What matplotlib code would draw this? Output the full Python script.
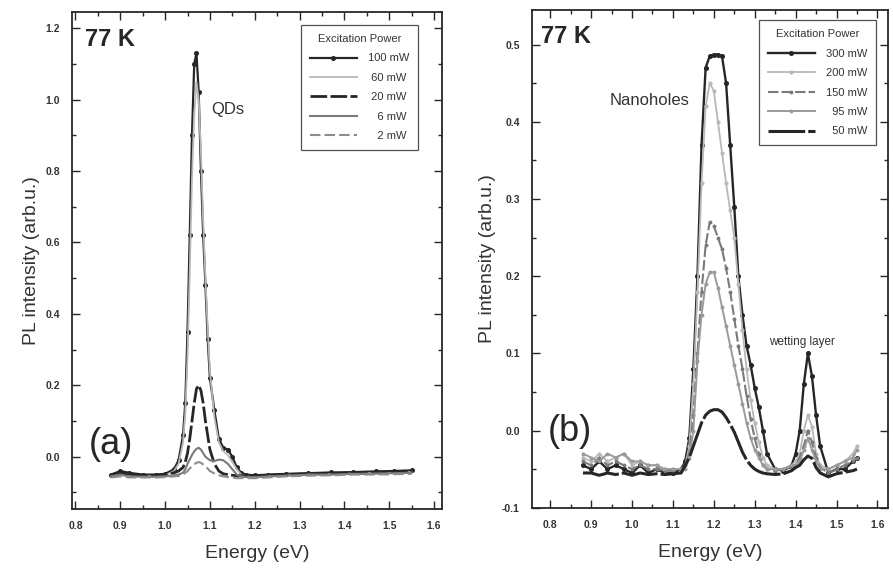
import matplotlib
matplotlib.use("Agg")
import matplotlib.pyplot as plt
from matplotlib.ticker import MultipleLocator, FormatStrFormatter

plt.rcParams["font.family"] = ["Liberation Sans", "DejaVu Sans"]

# ---- panel (a): QDs, 77 K ----
ENERGY_A = [0.88, 0.90, 0.92, 0.95, 0.98, 1.00, 1.02, 1.03, 1.04, 1.045, 1.05, 1.055,
            1.06, 1.065, 1.07, 1.075, 1.08, 1.085, 1.09, 1.095, 1.10, 1.11, 1.12, 1.13,
            1.14, 1.15, 1.16, 1.17, 1.18, 1.20, 1.23, 1.27, 1.32, 1.37, 1.42, 1.47, 1.51, 1.55]
PL_100 = [-0.05, -0.04, -0.045, -0.05, -0.05, -0.048, -0.035, -0.01, 0.06, 0.15, 0.35, 0.62,
          0.90, 1.10, 1.13, 1.02, 0.80, 0.62, 0.48, 0.33, 0.22, 0.13, 0.05, 0.025,
          0.02, 0.0, -0.03, -0.045, -0.05, -0.052, -0.05, -0.048, -0.046, -0.044, -0.043, -0.041, -0.04, -0.038]
PL_60 = [-0.055, -0.05, -0.055, -0.055, -0.055, -0.052, -0.04, -0.02, 0.04, 0.12, 0.28, 0.52,
         0.78, 0.96, 1.05, 1.0, 0.85, 0.66, 0.50, 0.36, 0.24, 0.11, 0.04, 0.015,
         0.005, -0.015, -0.035, -0.05, -0.055, -0.058, -0.055, -0.052, -0.05, -0.049, -0.047, -0.046, -0.045, -0.044]
PL_20 = [-0.05, -0.045, -0.05, -0.052, -0.052, -0.05, -0.045, -0.04, -0.03, -0.015, 0.01, 0.05,
         0.10, 0.15, 0.19, 0.20, 0.185, 0.15, 0.10, 0.06, 0.02, -0.02, -0.04, -0.048,
         -0.05, -0.052, -0.053, -0.053, -0.054, -0.054, -0.052, -0.05, -0.048, -0.047, -0.046, -0.045, -0.044, -0.043]
PL_6 = [-0.055, -0.05, -0.055, -0.056, -0.056, -0.055, -0.052, -0.05, -0.045, -0.035, -0.02, -0.008,
        0.005, 0.015, 0.022, 0.025, 0.02, 0.01, 0.0, -0.005, -0.01, -0.012, -0.008, -0.01,
        -0.02, -0.035, -0.05, -0.055, -0.057, -0.057, -0.055, -0.053, -0.05, -0.05, -0.048, -0.047, -0.046, -0.045]
PL_2 = [-0.058, -0.055, -0.058, -0.058, -0.058, -0.057, -0.055, -0.054, -0.05, -0.045, -0.04, -0.033,
        -0.027, -0.021, -0.017, -0.015, -0.017, -0.022, -0.027, -0.033, -0.04, -0.047, -0.052, -0.055,
        -0.057, -0.058, -0.06, -0.06, -0.06, -0.06, -0.058, -0.055, -0.053, -0.052, -0.05, -0.05, -0.049, -0.048]

# ---- panel (b): nanoholes, 77 K ----
ENERGY_B = [0.88, 0.90, 0.92, 0.94, 0.96, 0.98, 1.00, 1.02, 1.04, 1.06, 1.08, 1.10, 1.12,
            1.13, 1.14, 1.15, 1.16, 1.17, 1.18, 1.19, 1.20, 1.21, 1.22, 1.23, 1.24, 1.25,
            1.26, 1.27, 1.28, 1.29, 1.30, 1.31, 1.32, 1.33,
            1.35, 1.37, 1.39,
            1.40, 1.41, 1.42, 1.43, 1.44, 1.45, 1.46,
            1.48, 1.50, 1.52, 1.54, 1.55]
PL_300 = [-0.045, -0.05, -0.04, -0.05, -0.045, -0.05, -0.055, -0.045, -0.055, -0.05, -0.055, -0.055, -0.05,
          -0.04, -0.01, 0.08, 0.20, 0.37, 0.47, 0.485, 0.487, 0.487, 0.485, 0.45, 0.37, 0.29,
          0.20, 0.15, 0.11, 0.085, 0.055, 0.03, 0.0, -0.03,
          -0.05, -0.052, -0.045,
          -0.03, 0.0, 0.06, 0.10, 0.07, 0.02, -0.02,
          -0.055, -0.05, -0.05, -0.04, -0.035]
PL_200 = [-0.035, -0.04, -0.03, -0.04, -0.035, -0.03, -0.045, -0.04, -0.045, -0.045, -0.05, -0.05, -0.05,
          -0.045, -0.02, 0.06, 0.18, 0.32, 0.42, 0.45, 0.44, 0.40, 0.36, 0.32, 0.285, 0.25,
          0.19, 0.13, 0.08, 0.04, 0.01, -0.015, -0.035, -0.045,
          -0.05, -0.05, -0.045,
          -0.04, -0.03, 0.0, 0.02, 0.005, -0.03, -0.045,
          -0.05, -0.045, -0.04, -0.03, -0.02]
PL_150 = [-0.04, -0.045, -0.035, -0.045, -0.04, -0.045, -0.05, -0.045, -0.05, -0.05, -0.052, -0.052, -0.05,
          -0.045, -0.03, 0.02, 0.10, 0.18, 0.24, 0.27, 0.265, 0.25, 0.235, 0.21, 0.18, 0.145,
          0.11, 0.08, 0.045, 0.015, -0.01, -0.03, -0.045, -0.05,
          -0.052, -0.05, -0.048,
          -0.045, -0.035, -0.02, 0.0, -0.015, -0.035, -0.048,
          -0.055, -0.05, -0.045, -0.04, -0.035]
PL_95 = [-0.03, -0.035, -0.04, -0.03, -0.035, -0.03, -0.04, -0.04, -0.045, -0.045, -0.05, -0.05, -0.05,
         -0.05, -0.035, 0.0, 0.09, 0.15, 0.19, 0.205, 0.205, 0.185, 0.16, 0.135, 0.11, 0.085,
         0.06, 0.035, 0.01, -0.01, -0.025, -0.035, -0.045, -0.05,
         -0.05, -0.05, -0.045,
         -0.045, -0.04, -0.025, -0.01, -0.025, -0.04, -0.05,
         -0.05, -0.045, -0.04, -0.035, -0.025]
PL_50 = [-0.055, -0.055, -0.058, -0.055, -0.057, -0.055, -0.058, -0.055, -0.057, -0.056, -0.057, -0.056, -0.055,
         -0.045, -0.035, -0.02, -0.005, 0.01, 0.02, 0.025, 0.027, 0.027, 0.024, 0.017, 0.008, -0.002,
         -0.015, -0.028, -0.038, -0.045, -0.05, -0.053, -0.055, -0.056,
         -0.057, -0.056, -0.052,
         -0.048, -0.045, -0.038, -0.033, -0.036, -0.048, -0.055,
         -0.06, -0.056, -0.054, -0.052, -0.05]

DARK = "#262626"
MID = "#7a7a7a"
LIGHT = "#b8b8b8"
TXT = "#333333"


def style_axes(ax, xmaj, ymaj, ymin):
    ax.xaxis.set_major_locator(MultipleLocator(xmaj))
    ax.xaxis.set_minor_locator(MultipleLocator(xmaj / 2))
    ax.yaxis.set_major_locator(MultipleLocator(ymaj))
    ax.yaxis.set_minor_locator(MultipleLocator(ymin))
    ax.xaxis.set_major_formatter(FormatStrFormatter("%.1f"))
    ax.yaxis.set_major_formatter(FormatStrFormatter("%.1f"))
    ax.tick_params(which="both", direction="in", top=True, right=True,
                   colors=DARK, labelcolor=TXT, width=1.0)
    ax.tick_params(which="major", length=6, labelsize=7.5, pad=9)
    ax.tick_params(which="minor", length=3)
    for lab in ax.get_xticklabels() + ax.get_yticklabels():
        lab.set_fontweight("bold")
    for sp in ax.spines.values():
        sp.set_linewidth(1.3)
        sp.set_color(DARK)
    ax.set_xlabel("Energy (eV)", fontsize=14, color=TXT, labelpad=10)
    ax.set_ylabel("PL intensity (arb.u.)", fontsize=14, color=TXT, labelpad=4)


def make_legend(ax, anchor):
    leg = ax.legend(loc="upper right", bbox_to_anchor=anchor, title="Excitation Power",
                    fontsize=8, title_fontsize=8, frameon=True, fancybox=False,
                    edgecolor=DARK, handlelength=4.2, labelspacing=0.85, borderpad=0.8,
                    handletextpad=1.0)
    leg.get_frame().set_linewidth(0.9)
    leg.get_title().set_color(TXT)
    for t in leg.get_texts():
        t.set_color(TXT)
    return leg


fig = plt.figure(figsize=(8.93, 5.75), dpi=100)
ax1 = fig.add_axes([0.081, 0.115, 0.414, 0.864])
ax2 = fig.add_axes([0.596, 0.117, 0.398, 0.866])

# panel (a)
ax1.plot(ENERGY_A, PL_100, color=DARK, lw=1.6, marker="o", ms=2.6, label="100 mW")
ax1.plot(ENERGY_A, PL_60, color=LIGHT, lw=1.3, label=" 60 mW")
ax1.plot(ENERGY_A, PL_20, color=DARK, lw=2.0, ls=(0, (6, 1.2)), label=" 20 mW")
ax1.plot(ENERGY_A, PL_6, color=MID, lw=1.5, label="   6 mW")
ax1.plot(ENERGY_A, PL_2, color="#8c8c8c", lw=1.5, ls=(0, (5, 2)), label="   2 mW")
ax1.set_xlim(0.793, 1.618)
ax1.set_ylim(-0.146, 1.245)
style_axes(ax1, 0.1, 0.2, 0.1)
make_legend(ax1, (0.95, 0.985))
ax1.text(0.035, 0.944, "77 K", transform=ax1.transAxes, fontsize=17, fontweight="bold",
         color=DARK, ha="left", va="center")
ax1.text(0.42, 0.803, "QDs", transform=ax1.transAxes, fontsize=12, color=TXT,
         ha="center", va="center")
ax1.text(0.045, 0.13, "(a)", transform=ax1.transAxes, fontsize=26, color=DARK,
         ha="left", va="center")

# panel (b)
ax2.plot(ENERGY_B, PL_300, color=DARK, lw=1.7, marker="o", ms=2.6, label="300 mW")
ax2.plot(ENERGY_B, PL_200, color=LIGHT, lw=1.3, marker="o", ms=2.0, label="200 mW")
ax2.plot(ENERGY_B, PL_150, color=MID, lw=1.5, ls=(0, (5, 1.5)), marker="o", ms=1.8, label="150 mW")
ax2.plot(ENERGY_B, PL_95, color="#9a9a9a", lw=1.4, marker="o", ms=1.8, label="  95 mW")
ax2.plot(ENERGY_B, PL_50, color=DARK, lw=2.2, ls=(0, (12, 1)), label="  50 mW")
ax2.set_xlim(0.756, 1.625)
ax2.set_ylim(-0.1, 0.545)
style_axes(ax2, 0.1, 0.1, 0.05)
make_legend(ax2, (0.983, 0.99))
ax2.text(0.025, 0.946, "77 K", transform=ax2.transAxes, fontsize=17, fontweight="bold",
         color=DARK, ha="left", va="center")
ax2.text(0.331, 0.817, "Nanoholes", transform=ax2.transAxes, fontsize=12, color=TXT,
         ha="center", va="center")
ax2.text(0.665, 0.333, "wetting layer", transform=ax2.transAxes, fontsize=8.5, color=TXT,
         ha="left", va="center")
ax2.text(0.045, 0.153, "(b)", transform=ax2.transAxes, fontsize=26, color=DARK,
         ha="left", va="center")

fig.savefig("out.png", dpi=100)
